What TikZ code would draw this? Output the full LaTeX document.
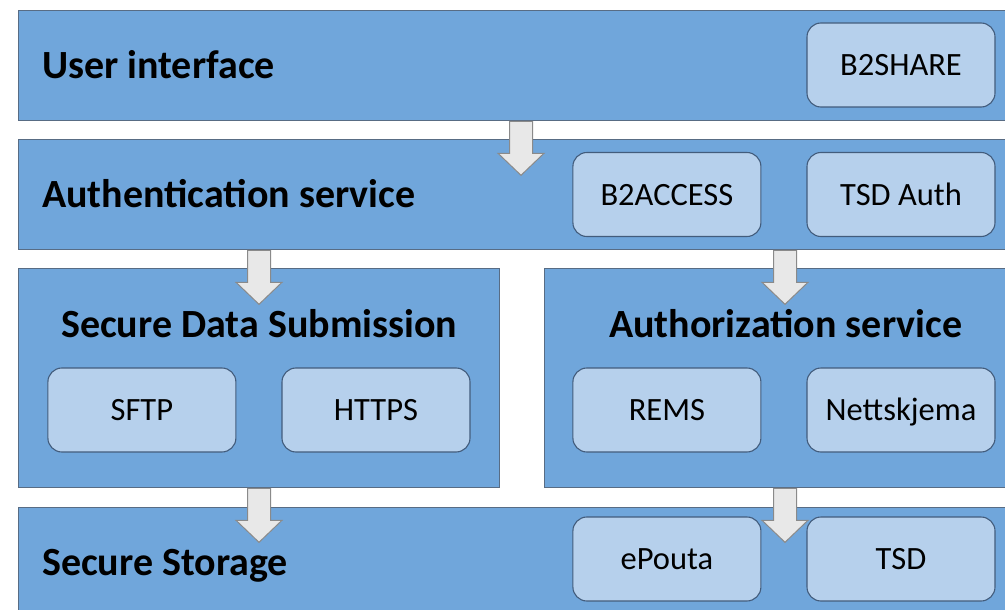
\documentclass[tikz,border=0pt]{standalone}
\usepackage{fontspec}
\setmainfont{Carlito}
\usetikzlibrary{positioning}
\usetikzlibrary{calc}

\definecolor{layerblue}{RGB}{112,166,219}
\definecolor{layerline}{RGB}{88,108,132}
\definecolor{boxblue}{RGB}{182,208,236}
\definecolor{boxline}{RGB}{66,92,124}
\definecolor{arrowfill}{RGB}{232,232,232}
\definecolor{arrowline}{RGB}{138,138,138}

\begin{document}
\begin{tikzpicture}[
  x=1pt, y=-1pt,
  layer/.style={draw=layerline, line width=1.3pt, fill=layerblue, inner sep=0pt, anchor=north west},
  heading/.style={font=\fontsize{40}{48}\selectfont\bfseries, text height=26pt, text depth=0pt, inner sep=0pt},
  service/.style={draw=boxline, line width=1.1pt, fill=boxblue, rounded corners=14pt,
    minimum width=188pt, minimum height=84pt, inner sep=0pt,
    font=\fontsize{32.5}{39}\selectfont, text height=21pt, text depth=0pt},
  flowarrow/.style={draw=arrowline, line width=1pt, fill=arrowfill, line join=miter}
]
\useasboundingbox (0,0) rectangle (1005,610);
\clip (0,0) rectangle (1005,610);

% Layers
\node[layer, minimum width=1020pt, minimum height=110pt] (ui) at (18,10) {};
\node[layer, minimum width=1020pt, minimum height=110pt] (auth) at (18,139) {};
\node[layer, minimum width=481pt, minimum height=219pt] (subm) at (18,268) {};
\node[layer, minimum width=482pt, minimum height=219pt] (authz) at (544,268) {};
\node[layer, minimum width=1020pt, minimum height=130pt] (storage) at (18,507) {};

% Layer titles
\node[heading, anchor=west] (uititle) at ($(ui.north west)+(24,55)$) {User interface};
\node[heading, anchor=west] (authtitle) at ($(auth.north west)+(24,55)$) {Authentication service};
\node[heading] (submtitle) at ($(subm.north)+(0,56)$) {Secure Data Submission};
\node[heading] (authztitle) at ($(authz.north)+(0,56)$) {Authorization service};
\node[heading, anchor=west] (storagetitle) at ($(storage.north west)+(24,55)$) {Secure Storage};

% Services
\node[service] (b2share) at (901,65) {B2SHARE};
\node[service] (tsdauth) at (901,194.5) {TSD Auth};
\node[service, left=45pt of tsdauth] (b2access) {B2ACCESS};
\node[service] (https) at (376,410) {HTTPS};
\node[service, left=45pt of https] (sftp) {SFTP};
\node[service] (nettskjema) at (901,410) {Nettskjema};
\node[service, left=45pt of nettskjema] (rems) {REMS};
\node[service] (tsd) at (901,559) {TSD};
\node[service, left=45pt of tsd] (epouta) {ePouta};

% Flow arrows between layers
\foreach \xpos/\from in {521/ui, 259/auth, 785/auth, 259/subm, 785/authz}
  \draw[flowarrow] (\from.south -| \xpos,0) ++(-11.5,0) -- ++(0,32) -- ++(-11.5,0)
    -- ++(23,22) -- ++(23,-22) -- ++(-11.5,0) -- ++(0,-32) -- cycle;

\end{tikzpicture}
\end{document}
